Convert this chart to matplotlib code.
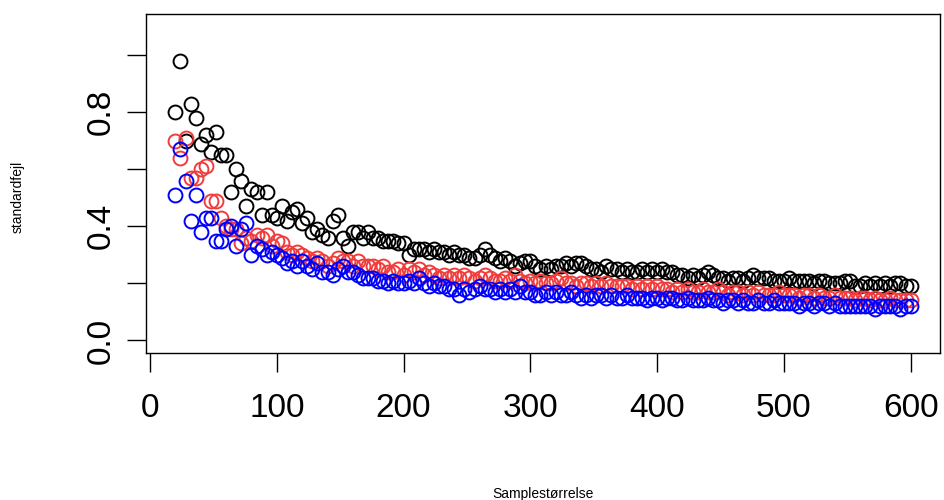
import numpy as np
import matplotlib
matplotlib.use("Agg")
import matplotlib.pyplot as plt

plt.rcParams['font.family'] = ['Liberation Sans', 'DejaVu Sans']

# sample sizes 20, 24, ..., 600
sample_size = np.arange(20, 601, 4)

# standard error, black series
se_black = [
    .80, .98, .70, .83, .78, .69, .72, .66, .73, .65,
    .65, .52, .60, .56, .47, .53, .52, .44, .52, .44,
    .43, .47, .42, .45, .46, .41, .43, .38, .39, .37,
    .36, .42, .44, .36, .33, .38, .38, .36, .38, .36,
    .36, .35, .35, .35, .34,
    .34, .30, .32, .32, .32, .31, .32, .31, .31, .30,
    .31, .30, .30, .29, .29, .30, .32, .30, .29, .28,
    .29, .28, .26, .27, .28, .28, .26, .25, .26, .25,
    .26, .26, .27, .26, .27, .27, .26, .25, .25, .24,
    .26, .25, .25, .24, .25, .24, .24, .25, .24, .25,
    .24, .25, .24, .24, .23, .23, .22, .23, .22, .23,
    .24, .23, .22, .22, .21, .22, .22, .21, .22, .23,
    .22, .22, .22, .21, .21, .21, .22, .21, .21, .21,
    .21, .20, .21, .21, .20, .20, .20, .21, .21, .19,
    .19, .20, .19, .20, .19, .20, .19, .20, .20, .19,
    .19,
]

# red series
se_red = [
    .70, .64, .71, .57, .57, .60, .61, .49, .49, .43,
    .40, .39, .39, .34, .36, .35, .37, .36, .37, .33,
    .35, .34, .31, .30, .31, .30, .29, .28, .29, .28,
    .26, .27, .29, .28, .28, .26, .28, .26, .26, .26,
    .25, .26, .24, .24, .25,
    .23, .25, .24, .25, .23, .24, .23, .22, .23, .22,
    .23, .22, .23, .22, .21, .22, .23, .22, .21, .21,
    .22, .21, .23, .21, .20, .21, .20, .21, .20, .20,
    .21, .22, .20, .20, .19, .20, .20, .19, .20, .19,
    .20, .19, .19, .19, .19, .18, .19, .18, .19, .18,
    .19, .18, .18, .17, .18, .17, .18, .17, .17, .18,
    .17, .17, .18, .17, .16, .17, .17, .16, .17, .16,
    .17, .16, .16, .16, .17, .16, .16, .16, .15, .16,
    .16, .15, .16, .15, .15, .16, .15, .15, .15, .14,
    .15, .15, .14, .15, .14, .14, .15, .14, .14, .14,
    .14,
]

# blue series
se_blue = [
    .51, .67, .56, .42, .51, .38, .43, .43, .35, .35,
    .39, .40, .33, .39, .41, .30, .33, .32, .30, .31,
    .30, .29, .27, .28, .26, .28, .26, .25, .27, .24,
    .24, .23, .25, .26, .24, .24, .23, .22, .22, .22,
    .21, .21, .20, .21, .20,
    .20, .21, .20, .22, .20, .19, .20, .19, .19, .18,
    .18, .16, .18, .17, .18, .19, .18, .18, .17, .18,
    .17, .18, .17, .19, .17, .17, .16, .16, .17, .16,
    .17, .16, .16, .17, .16, .15, .16, .15, .16, .16,
    .15, .16, .15, .15, .16, .15, .15, .15, .14, .15,
    .15, .14, .15, .15, .14, .14, .15, .14, .14, .14,
    .15, .14, .14, .13, .14, .14, .13, .14, .13, .13,
    .14, .13, .13, .14, .13, .13, .13, .13, .12, .13,
    .13, .12, .13, .13, .12, .13, .12, .12, .12, .12,
    .12, .12, .12, .11, .12, .12, .12, .12, .11, .12,
    .12,
]

x_ticks = [0, 100, 200, 300, 400, 500, 600]
y_ticks = [0.0, 0.2, 0.4, 0.6, 0.8, 1.0]
y_labels = ["0.0", "", "0.4", "", "0.8", ""]

assert len(se_black) == len(se_red) == len(se_blue) == len(sample_size)

W, H = 945, 500
fig = plt.figure(figsize=(W / 100, H / 100), dpi=100)
ax = fig.add_axes([146 / W, 1 - 353 / H, (940 - 146) / W, (353 - 14) / H])

# open circles, like R's default pch
mk = dict(marker='o', linestyle='none', markersize=10,
          markerfacecolor='none', markeredgewidth=1.4)
ax.plot(sample_size, se_black, color='black', **mk)
ax.plot(sample_size, se_red, color='#f23c3c', **mk)
ax.plot(sample_size, se_blue, color='#0000ff', **mk)

ax.set_xlim(-3.2, 623.2)
ax.set_ylim(-0.044, 1.144)
ax.set_xticks(x_ticks)
ax.set_yticks(y_ticks)
ax.set_yticklabels(y_labels, rotation=90, va='center')

for s in ax.spines.values():
    s.set_linewidth(1.0)
ax.tick_params(axis='both', direction='out', length=14, width=1.0,
               labelsize=24, color='black')
ax.tick_params(axis='x', pad=15)
ax.tick_params(axis='y', pad=7)

fig.text(18 / W, 1 - 197 / H, "standardfejl", rotation=90,
         ha='center', va='center', fontsize=10)
fig.text(543 / W, 1 - 494 / H, "Samplestørrelse",
         ha='center', va='center', fontsize=10)

fig.savefig("out.png", dpi=100)
